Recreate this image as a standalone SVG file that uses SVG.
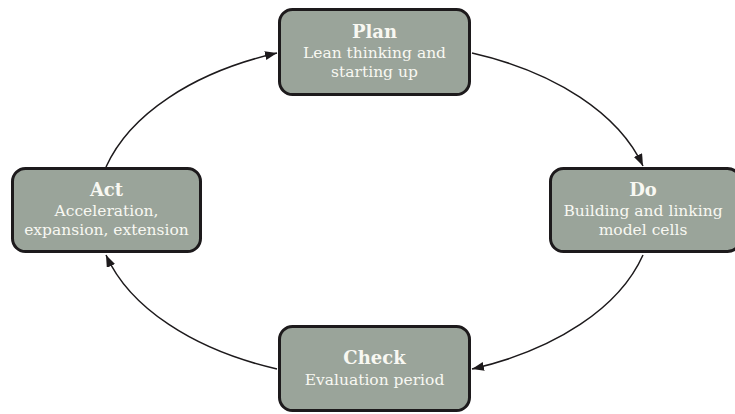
<svg xmlns="http://www.w3.org/2000/svg" width="735" height="414" viewBox="0 0 735 414">
  <style>
    .box { fill: #9aa49a; stroke: #1d1a1c; stroke-width: 3; }
    .title { font-family: "DejaVu Serif", "Liberation Serif", serif; font-weight: bold; font-size: 18px; fill: #f8f8f2; text-anchor: middle; }
    .body { font-family: "DejaVu Serif", "Liberation Serif", serif; font-size: 15.5px; fill: #f8f8f2; text-anchor: middle; }
    .conn { fill: none; stroke: #1d1a1c; stroke-width: 1.5; marker-end: url(#arrow); }
  </style>
  <defs>
    <marker id="arrow" markerUnits="userSpaceOnUse" markerWidth="13" markerHeight="10" refX="12" refY="4.5" orient="auto">
      <path d="M0,0 L12,4.5 L0,9 z" fill="#1d1a1c"/>
    </marker>
  </defs>
  <rect width="735" height="414" fill="#ffffff"/>
  <g id="connectors">
    <path class="conn" d="M 472 53 A 279 169 0 0 1 643 166"/>
    <path class="conn" d="M 643 255 A 279 169 0 0 1 472 369"/>
    <path class="conn" d="M 277 369 A 279 169 0 0 1 106 255"/>
    <path class="conn" d="M 106 167 A 279 169 0 0 1 277 53"/>
  </g>
  <g id="plan">
    <rect class="box" x="279.5" y="9.5" width="190" height="85" rx="13"/>
    <text class="title" x="374.5" y="38">Plan</text>
    <text class="body" x="374.5" y="58">Lean thinking and</text>
    <text class="body" x="374.5" y="77">starting up</text>
  </g>
  <g id="do">
    <rect class="box" x="550.5" y="168.5" width="190" height="83" rx="13"/>
    <text class="title" x="643" y="196">Do</text>
    <text class="body" x="643" y="216">Building and linking</text>
    <text class="body" x="643" y="235">model cells</text>
  </g>
  <g id="act">
    <rect class="box" x="12.5" y="168.5" width="188" height="83" rx="13"/>
    <text class="title" x="106.5" y="196">Act</text>
    <text class="body" x="106.5" y="216">Acceleration,</text>
    <text class="body" x="106.5" y="235">expansion, extension</text>
  </g>
  <g id="check">
    <rect class="box" x="279.5" y="326.5" width="190" height="84" rx="13"/>
    <text class="title" x="374.5" y="364">Check</text>
    <text class="body" x="374.5" y="385">Evaluation period</text>
  </g>
</svg>
